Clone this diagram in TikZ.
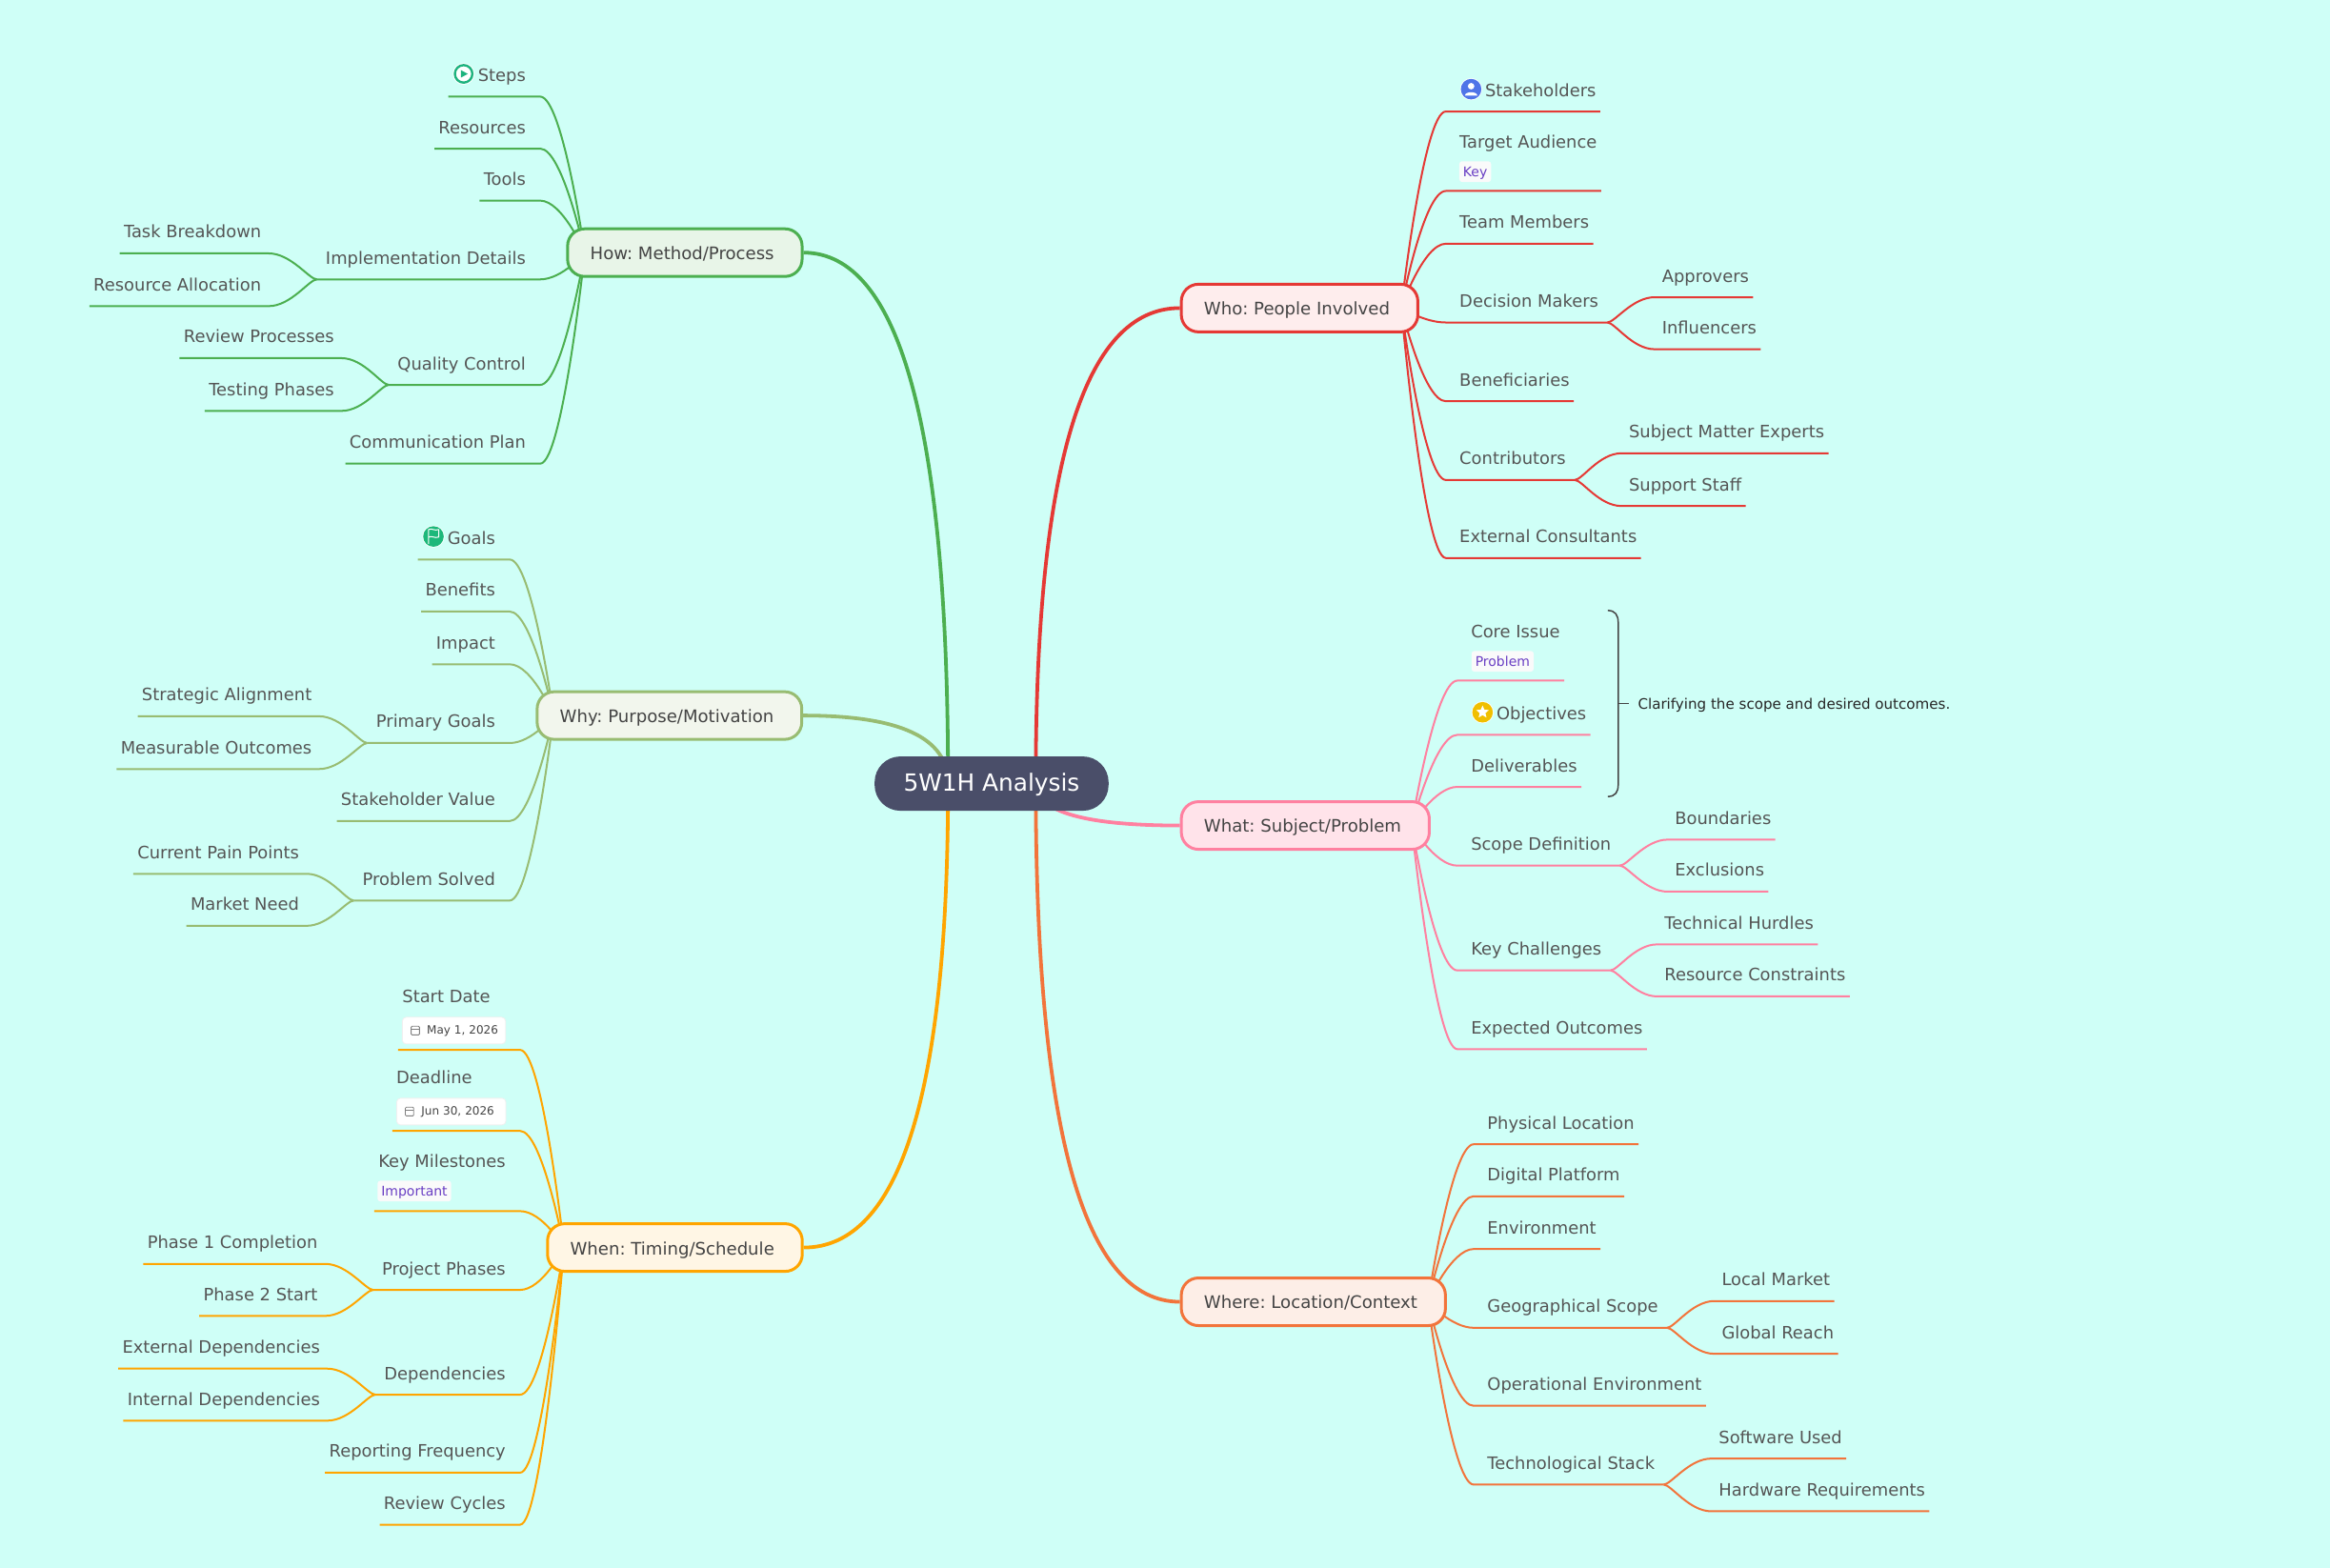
\documentclass[tikz,border=0pt]{standalone}
\usepackage{fontspec}
\setmainfont{DejaVu Sans}
\usetikzlibrary{backgrounds,shapes.geometric}
\definecolor{bgmint}{HTML}{CFFFF7}
\definecolor{rootfill}{HTML}{4A4E69}
\definecolor{leaftext}{HTML}{555555}
\definecolor{branchtext}{HTML}{444444}
\definecolor{tagtext}{HTML}{6A3FC4}
\definecolor{whoc}{HTML}{E53935}
\definecolor{whatc}{HTML}{FF80A0}
\definecolor{wherec}{HTML}{F2743B}
\definecolor{whenc}{HTML}{FFA500}
\definecolor{howc}{HTML}{4CAF50}
\definecolor{whyc}{HTML}{98BC72}
\definecolor{stepsc}{HTML}{1DB37E}
\definecolor{goalsc}{HTML}{1DB87A}
\definecolor{stakec}{HTML}{4F74E8}
\definecolor{objc}{HTML}{F0BF00}
\tikzset{
  rootnode/.style={fill=rootfill,text=white,rounded corners=13.5pt,minimum width=122.8pt,minimum height=28.5pt,inner sep=0pt,text height=10pt,text depth=1.8pt,font=\fontsize{12.4pt}{14pt}\selectfont},
  branch/.style={draw=#1,line width=1.5pt,rounded corners=9pt,minimum height=25pt,inner xsep=11.9pt,inner ysep=0pt,anchor=west,text height=9pt,text depth=1.6pt,text=branchtext,font=\fontsize{9.05pt}{11pt}\selectfont,execute at end node={\hspace*{2.8pt}}},
  leaf/.style={inner xsep=0pt,inner ysep=5.3pt,text height=7pt,text depth=2.5pt,text=leaftext,font=\fontsize{8.95pt}{10pt}\selectfont},
  rleaf/.style={leaf,anchor=south west,execute at begin node={\hspace*{7pt}},execute at end node={\hspace*{2pt}}},
  lleaf/.style={leaf,anchor=south east,execute at begin node={\hspace*{2pt}},execute at end node={\hspace*{7.4pt}}},
  rfork/.style={leaf,anchor=south west,execute at begin node={\hspace*{7pt}},execute at end node={\hspace*{4.5pt}}},
  lfork/.style={leaf,anchor=south east,execute at begin node={\hspace*{4.5pt}},execute at end node={\hspace*{7.4pt}}},
  rsub/.style={leaf,anchor=south west,execute at begin node={\hspace*{3.7pt}},execute at end node={\hspace*{2pt}}},
  lsub/.style={leaf,anchor=south east,execute at begin node={\hspace*{2pt}},execute at end node={\hspace*{3.7pt}}},
  tagged/.style={text depth=16.85pt},
  tagged2/.style={text depth=17.65pt},
  dated/.style={text depth=19.2pt},
  tagbox/.style={fill=white!80!gray!20,rounded corners=1.5pt,anchor=west,text=tagtext,minimum height=10.9pt,inner xsep=2pt,inner ysep=0pt,text height=7pt,text depth=1.4pt,font=\fontsize{7pt}{8pt}\selectfont},
  datebox/.style={draw=black!6,fill=white,line width=.4pt,rounded corners=2pt,anchor=west,text=branchtext,minimum height=14pt,inner xsep=0pt,inner ysep=0pt,align=left,font=\fontsize{6pt}{8pt}\selectfont},
  calicon/.style={draw=black!50,line width=.4pt,rounded corners=.5pt},
  notetext/.style={anchor=west,inner xsep=4.7pt,inner ysep=0pt,text height=7pt,text depth=.8pt,text=black!85,font=\fontsize{7.55pt}{9pt}\selectfont},
  whomain/.style={whoc,line width=1.9pt},
  whatmain/.style={whatc,line width=1.9pt},
  wheremain/.style={wherec,line width=1.9pt},
  whenmain/.style={whenc,line width=1.9pt},
  howmain/.style={howc,line width=1.9pt},
  whymain/.style={whyc,line width=1.9pt},
  wholine/.style={whoc,line width=1pt},
  whatline/.style={whatc,line width=1pt},
  whereline/.style={wherec,line width=1pt},
  whenline/.style={whenc,line width=1pt},
  howline/.style={howc,line width=1pt},
  whyline/.style={whyc,line width=1pt},
}
\begin{document}
\frenchspacing
\begin{tikzpicture}[x=0.78pt,y=-0.78pt]
  \node[rootnode] (root) at (667.3,527.3) {5W1H Analysis};
  \coordinate (rootL) at (638,527);
  \coordinate (rootR) at (697,527);

  \node[branch=whoc,fill=red!50!whoc!8!white] (who) at (794,207.3) {Who: People Involved};
  \node[branch=whatc,fill=whatc!22!white] (what) at (794,555.5) {What: Subject/Problem};
  \node[branch=wherec,fill=wherec!12!white] (where) at (794,876) {Where: Location/Context};
  \node[branch=howc,fill=howc!13!white] (how) at (381,170) {How: Method/Process};
  \node[branch=whyc,fill=whyc!13!white] (why) at (360.5,481.5) {Why: Purpose/Motivation};
  \node[branch=whenc,fill=whenc!10!white] (when) at (367.5,839.5) {When: Timing/Schedule};
  \coordinate (whoS) at (943,207);
  \coordinate (whatS) at (950,555.5);
  \coordinate (whereS) at (961,876);
  \coordinate (howS) at (393.5,170);
  \coordinate (whyS) at (372.5,481.5);
  \coordinate (whenS) at (379.5,839.5);

  \node[rleaf] (stake) at (973,75) {\hspace*{13.4pt}Stakeholders};
  \node[rleaf,tagged] (target) at (973,128.5) {Target Audience};
  \node[tagbox] (keytag) at (981.8,115.5) {Key};
  \node[rleaf] (team) at (973,164) {Team Members};
  \node[rfork] (decision) at (973,217) {Decision Makers};
  \node[rsub] (approvers) at (1113.5,200) {Approvers};
  \node[rsub] (influencers) at (1113.5,235) {Influencers};
  \node[rleaf] (benef) at (973,270) {Beneficiaries};
  \node[rfork] (contrib) at (973,323) {Contributors};
  \node[rsub] (experts) at (1091.2,305) {Subject Matter Experts};
  \node[rsub] (support) at (1091.2,340.5) {Support Staff};
  \node[rleaf] (external) at (973,375.5) {External Consultants};

  \node[rleaf,tagged] (core) at (980.7,458) {Core Issue};
  \node[tagbox] (problemtag) at (990,445) {Problem};
  \node[rleaf] (objectives) at (980.7,494.5) {\hspace*{13.4pt}Objectives};
  \node[rleaf] (deliver) at (980.7,529.5) {Deliverables};
  \node[rfork] (scope) at (980.7,582.5) {Scope Definition};
  \node[rsub] (bound) at (1122.2,565) {Boundaries};
  \node[rsub] (excl) at (1122.2,600) {Exclusions};
  \node[rfork] (challenges) at (980.7,653) {Key Challenges};
  \node[rsub] (hurdles) at (1115.2,635.5) {Technical Hurdles};
  \node[rsub] (constraints) at (1115.2,670.5) {Resource Constraints};
  \node[rleaf] (outcomes) at (980.7,706) {Expected Outcomes};

  \node[rleaf] (physical) at (991.7,770) {Physical Location};
  \node[rleaf] (digital) at (991.7,805) {Digital Platform};
  \node[rleaf] (environ) at (991.7,840.5) {Environment};
  \node[rfork] (geo) at (991.7,893.5) {Geographical Scope};
  \node[rsub] (local) at (1153.7,875.5) {Local Market};
  \node[rsub] (global) at (1153.7,911) {Global Reach};
  \node[rleaf] (oper) at (991.7,946) {Operational Environment};
  \node[rfork] (tech) at (991.7,999) {Technological Stack};
  \node[rsub] (software) at (1151.7,981.5) {Software Used};
  \node[rsub] (hardware) at (1151.7,1017) {Hardware Requirements};

  \node[lleaf] (steps) at (363.5,65) {\hspace*{13.4pt}Steps};
  \node[lleaf] (resources) at (363.5,100) {Resources};
  \node[lleaf] (tools) at (363.5,135) {Tools};
  \node[lfork] (impl) at (363.5,188) {Implementation Details};
  \node[lsub] (task) at (180.8,170.5) {Task Breakdown};
  \node[lsub] (alloc) at (180.8,206) {Resource Allocation};
  \node[lfork] (quality) at (363.5,259) {Quality Control};
  \node[lsub] (review) at (229.8,241) {Review Processes};
  \node[lsub] (testing) at (229.8,276.5) {Testing Phases};
  \node[lleaf] (comm) at (363.5,312) {Communication Plan};

  \node[lleaf] (goals) at (343,376.5) {\hspace*{13.4pt}Goals};
  \node[lleaf] (benefits) at (343,411.5) {Benefits};
  \node[lleaf] (impact) at (343,447) {Impact};
  \node[lfork] (primary) at (343,500) {Primary Goals};
  \node[lsub] (strategic) at (214.8,482) {Strategic Alignment};
  \node[lsub] (measurable) at (214.8,517.5) {Measurable Outcomes};
  \node[lleaf] (value) at (343,552.5) {Stakeholder Value};
  \node[lfork] (solved) at (343,606) {Problem Solved};
  \node[lsub] (pain) at (206.3,588) {Current Pain Points};
  \node[lsub] (market) at (206.3,623) {Market Need};

  \node[lleaf,dated] (start) at (350,706.5) {\makebox[54.2pt][l]{Start Date}};
  \node[datebox,text width=54.2pt] (startdate) at (270.5,693.5) {\hspace*{12.9pt}May 1, 2026};
  \node[lleaf,dated] (deadline) at (350,761) {\makebox[57.3pt][l]{Deadline}};
  \node[datebox,text width=57.3pt] (deaddate) at (266.7,748) {\hspace*{13pt}Jun 30, 2026};
  \node[lleaf,tagged2] (miles) at (350,815) {Key Milestones};
  \node[tagbox] (importtag) at (253.8,801.5) {Important};
  \node[lfork] (phases) at (350,868) {Project Phases};
  \node[lsub] (phase1) at (218.8,850.5) {Phase 1 Completion};
  \node[lsub] (phase2) at (218.8,885.5) {Phase 2 Start};
  \node[lfork] (depend) at (350,938.5) {Dependencies};
  \node[lsub] (extdep) at (220.3,921) {External Dependencies};
  \node[lsub] (intdep) at (220.3,956) {Internal Dependencies};
  \node[lleaf] (freq) at (350,991) {Reporting Frequency};
  \node[lleaf] (cycles) at (350,1026) {Review Cycles};

  \node[notetext] (note) at (1096,473.5) {Clarifying the scope and desired outcomes.};
  \coordinate (braceTop) at (1082,410.8);
  \coordinate (braceBot) at (1082,536);
  \coordinate (braceMid) at (1089,473.5);
  \draw[branchtext,line width=.75pt] (braceTop) .. controls +(5,0) and +(0,-5) .. (1089,419) -- (1089,528) .. controls +(0,5) and +(5,0) .. (braceBot);
  \draw[branchtext,line width=.75pt] (braceMid) -- (note.west);

  \draw[calicon] (276.7,690.6) rectangle (282.3,696.4);
  \draw[calicon] (276.7,692.4) -- (282.3,692.4);
  \draw[calicon] (272.8,745.1) rectangle (278.4,750.9);
  \draw[calicon] (272.8,746.9) -- (278.4,746.9);

  \fill[white] (312,49.7) circle (5.7pt);
  \draw[stepsc,line width=1.2pt] (312,49.7) circle (4.6pt);
  \fill[stepsc] (310.2,47.2) -- (314.8,49.7) -- (310.2,52.2) -- cycle;

  \fill[white] (990,60) circle (5.8pt);
  \fill[stakec] (990,60) circle (5.4pt);
  \fill[white] (990,58) circle (1.7pt);
  \fill[white] (985.8,64.3) .. controls (986,61.3) and (994,61.3) .. (994.2,64.3) -- cycle;

  \fill[white] (291.7,361) circle (5.8pt);
  \fill[goalsc] (291.7,361) circle (5.4pt);
  \draw[white,line width=.5pt,line join=round] (288.4,366) -- (288.4,356.3) .. controls (291,355.3) and (292.5,357.5) .. (295.2,356.3) -- (295.2,361.4) .. controls (292.5,362.5) and (291,360.3) .. (288.4,361.4);

  \fill[white] (997.7,479.3) circle (5.8pt);
  \fill[objc] (997.7,479.3) circle (5.4pt);
  \node[star,star points=5,star point ratio=2.2,fill=white,inner sep=0pt,minimum size=7pt] (objstar) at (997.7,479.2) {};

  \begin{scope}[on background layer]
    \path[use as bounding box,fill=bgmint] (0,0) rectangle (1568,1055.13);

    \draw[howmain] (rootL) .. controls +(0,-238) and +(65,0) .. (how.east);
    \draw[whymain] (rootL) .. controls +(0,-30.7) and +(65,0) .. (why.east);
    \draw[whenmain] (rootL) .. controls +(0,208) and +(65,0) .. (when.east);
    \draw[whomain] (rootR) .. controls +(0,-213) and +(-65,0) .. (who.west);
    \draw[whatmain] (rootR) .. controls +(0,19) and +(-65,0) .. (what.west);
    \draw[wheremain] (rootR) .. controls +(0,233) and +(-65,0) .. (where.west);

    \draw[wholine] (whoS) .. controls +(0,0) and +(-15,0) .. (stake.south west) -- (stake.south east);
    \draw[wholine] (whoS) .. controls +(0,0) and +(-15,0) .. (target.south west) -- (target.south east);
    \draw[wholine] (whoS) .. controls +(0,0) and +(-15,0) .. (team.south west) -- (team.south east);
    \draw[wholine] (whoS) .. controls +(0,0) and +(-15,0) .. (decision.south west) -- (decision.south east);
    \draw[wholine] (decision.south east) .. controls +(5,0) and +(-15,0) .. (approvers.south west) -- (approvers.south east);
    \draw[wholine] (decision.south east) .. controls +(5,0) and +(-15,0) .. (influencers.south west) -- (influencers.south east);
    \draw[wholine] (whoS) .. controls +(0,0) and +(-15,0) .. (benef.south west) -- (benef.south east);
    \draw[wholine] (whoS) .. controls +(0,0) and +(-15,0) .. (contrib.south west) -- (contrib.south east);
    \draw[wholine] (contrib.south east) .. controls +(5,0) and +(-15,0) .. (experts.south west) -- (experts.south east);
    \draw[wholine] (contrib.south east) .. controls +(5,0) and +(-15,0) .. (support.south west) -- (support.south east);
    \draw[wholine] (whoS) .. controls +(0,0) and +(-15,0) .. (external.south west) -- (external.south east);

    \draw[whatline] (whatS) .. controls +(0,0) and +(-15,0) .. (core.south west) -- (core.south east);
    \draw[whatline] (whatS) .. controls +(0,0) and +(-15,0) .. (objectives.south west) -- (objectives.south east);
    \draw[whatline] (whatS) .. controls +(0,0) and +(-15,0) .. (deliver.south west) -- (deliver.south east);
    \draw[whatline] (whatS) .. controls +(0,0) and +(-15,0) .. (scope.south west) -- (scope.south east);
    \draw[whatline] (scope.south east) .. controls +(5,0) and +(-15,0) .. (bound.south west) -- (bound.south east);
    \draw[whatline] (scope.south east) .. controls +(5,0) and +(-15,0) .. (excl.south west) -- (excl.south east);
    \draw[whatline] (whatS) .. controls +(0,0) and +(-15,0) .. (challenges.south west) -- (challenges.south east);
    \draw[whatline] (challenges.south east) .. controls +(5,0) and +(-15,0) .. (hurdles.south west) -- (hurdles.south east);
    \draw[whatline] (challenges.south east) .. controls +(5,0) and +(-15,0) .. (constraints.south west) -- (constraints.south east);
    \draw[whatline] (whatS) .. controls +(0,0) and +(-15,0) .. (outcomes.south west) -- (outcomes.south east);

    \draw[whereline] (whereS) .. controls +(0,0) and +(-15,0) .. (physical.south west) -- (physical.south east);
    \draw[whereline] (whereS) .. controls +(0,0) and +(-15,0) .. (digital.south west) -- (digital.south east);
    \draw[whereline] (whereS) .. controls +(0,0) and +(-15,0) .. (environ.south west) -- (environ.south east);
    \draw[whereline] (whereS) .. controls +(0,0) and +(-15,0) .. (geo.south west) -- (geo.south east);
    \draw[whereline] (geo.south east) .. controls +(5,0) and +(-15,0) .. (local.south west) -- (local.south east);
    \draw[whereline] (geo.south east) .. controls +(5,0) and +(-15,0) .. (global.south west) -- (global.south east);
    \draw[whereline] (whereS) .. controls +(0,0) and +(-15,0) .. (oper.south west) -- (oper.south east);
    \draw[whereline] (whereS) .. controls +(0,0) and +(-15,0) .. (tech.south west) -- (tech.south east);
    \draw[whereline] (tech.south east) .. controls +(5,0) and +(-15,0) .. (software.south west) -- (software.south east);
    \draw[whereline] (tech.south east) .. controls +(5,0) and +(-15,0) .. (hardware.south west) -- (hardware.south east);

    \draw[howline] (howS) .. controls +(0,0) and +(15,0) .. (steps.south east) -- (steps.south west);
    \draw[howline] (howS) .. controls +(0,0) and +(15,0) .. (resources.south east) -- (resources.south west);
    \draw[howline] (howS) .. controls +(0,0) and +(15,0) .. (tools.south east) -- (tools.south west);
    \draw[howline] (howS) .. controls +(0,0) and +(15,0) .. (impl.south east) -- (impl.south west);
    \draw[howline] (impl.south west) .. controls +(-5,0) and +(15,0) .. (task.south east) -- (task.south west);
    \draw[howline] (impl.south west) .. controls +(-5,0) and +(15,0) .. (alloc.south east) -- (alloc.south west);
    \draw[howline] (howS) .. controls +(0,0) and +(15,0) .. (quality.south east) -- (quality.south west);
    \draw[howline] (quality.south west) .. controls +(-5,0) and +(15,0) .. (review.south east) -- (review.south west);
    \draw[howline] (quality.south west) .. controls +(-5,0) and +(15,0) .. (testing.south east) -- (testing.south west);
    \draw[howline] (howS) .. controls +(0,0) and +(15,0) .. (comm.south east) -- (comm.south west);

    \draw[whyline] (whyS) .. controls +(0,0) and +(15,0) .. (goals.south east) -- (goals.south west);
    \draw[whyline] (whyS) .. controls +(0,0) and +(15,0) .. (benefits.south east) -- (benefits.south west);
    \draw[whyline] (whyS) .. controls +(0,0) and +(15,0) .. (impact.south east) -- (impact.south west);
    \draw[whyline] (whyS) .. controls +(0,0) and +(15,0) .. (primary.south east) -- (primary.south west);
    \draw[whyline] (primary.south west) .. controls +(-5,0) and +(15,0) .. (strategic.south east) -- (strategic.south west);
    \draw[whyline] (primary.south west) .. controls +(-5,0) and +(15,0) .. (measurable.south east) -- (measurable.south west);
    \draw[whyline] (whyS) .. controls +(0,0) and +(15,0) .. (value.south east) -- (value.south west);
    \draw[whyline] (whyS) .. controls +(0,0) and +(15,0) .. (solved.south east) -- (solved.south west);
    \draw[whyline] (solved.south west) .. controls +(-5,0) and +(15,0) .. (pain.south east) -- (pain.south west);
    \draw[whyline] (solved.south west) .. controls +(-5,0) and +(15,0) .. (market.south east) -- (market.south west);

    \draw[whenline] (whenS) .. controls +(0,0) and +(15,0) .. (start.south east) -- (start.south west);
    \draw[whenline] (whenS) .. controls +(0,0) and +(15,0) .. (deadline.south east) -- (deadline.south west);
    \draw[whenline] (whenS) .. controls +(0,0) and +(15,0) .. (miles.south east) -- (miles.south west);
    \draw[whenline] (whenS) .. controls +(0,0) and +(15,0) .. (phases.south east) -- (phases.south west);
    \draw[whenline] (phases.south west) .. controls +(-5,0) and +(15,0) .. (phase1.south east) -- (phase1.south west);
    \draw[whenline] (phases.south west) .. controls +(-5,0) and +(15,0) .. (phase2.south east) -- (phase2.south west);
    \draw[whenline] (whenS) .. controls +(0,0) and +(15,0) .. (depend.south east) -- (depend.south west);
    \draw[whenline] (depend.south west) .. controls +(-5,0) and +(15,0) .. (extdep.south east) -- (extdep.south west);
    \draw[whenline] (depend.south west) .. controls +(-5,0) and +(15,0) .. (intdep.south east) -- (intdep.south west);
    \draw[whenline] (whenS) .. controls +(0,0) and +(15,0) .. (freq.south east) -- (freq.south west);
    \draw[whenline] (whenS) .. controls +(0,0) and +(15,0) .. (cycles.south east) -- (cycles.south west);
  \end{scope}
\end{tikzpicture}
\end{document}
